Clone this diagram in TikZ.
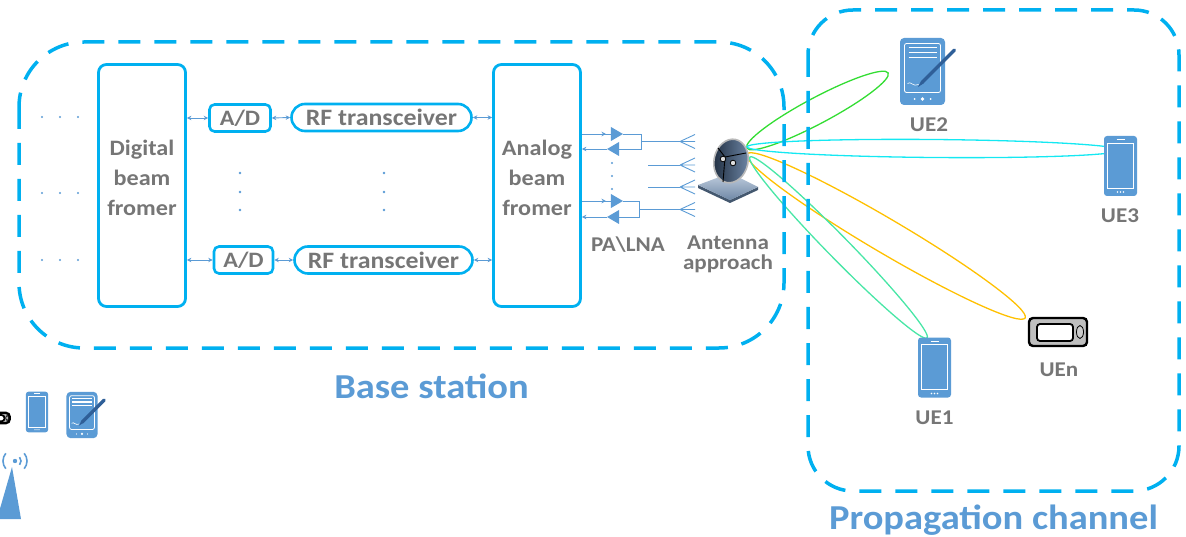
\documentclass[tikz,border=0pt]{standalone}
\usepackage{fontspec}
\setmainfont{Carlito}[FakeStretch=1.1]
\usetikzlibrary{
    arrows.meta,
    shapes.geometric,
    positioning,
    calc
}

\definecolor{bscyan}{HTML}{00B0F0}
\definecolor{sigblue}{HTML}{5B9BD5}
\definecolor{txtgray}{HTML}{767676}
\definecolor{penblue}{HTML}{2F5F98}
\definecolor{pagergray}{HTML}{BFBFBF}
\definecolor{lobegreen}{HTML}{33DD33}
\definecolor{lobecyan}{HTML}{14E8F2}
\definecolor{lobeorange}{HTML}{FFC000}
\definecolor{lobeaqua}{HTML}{48E6A6}
\definecolor{dishdark}{HTML}{1F2D3F}
\definecolor{dishlight}{HTML}{6F88A8}
\definecolor{baselight}{HTML}{C3D0E0}
\definecolor{basemid}{HTML}{6F88A6}
\definecolor{basedark}{HTML}{44586F}

\tikzset{
    % handsets
    phone/.pic={
        \fill[sigblue, rounded corners=3pt] (-16.5,-30) rectangle (16.5,30);
        \draw[white, line width=.8pt] (-13,-23) rectangle (13,22);
        \draw[white, line width=1pt] (-4,-26.5) -- (4,-26.5);
        \foreach \d in {-3,0,3} \fill[white] (\d,26) circle (.9pt);
    },
    tablet/.pic={
        \fill[sigblue, rounded corners=4pt] (-22.5,-33.5) rectangle (22.5,33.5);
        \draw[white, line width=.8pt, rounded corners=2pt] (-18,-28) rectangle (18,21);
        \foreach \l in {-24,-19,-14} \draw[white, line width=1.5pt] (-14,\l) -- (14,\l);
        \fill[white] (0,27.5) circle (1.8pt) (-8,27.5) circle (1pt) (8,27.5) circle (1pt);
        \draw[white, line width=.6pt] (-15,12) .. controls (-12,9) and (-9,16) .. (-4,13);
        \draw[penblue, line width=3.5pt, line cap=round] (32,-21.5) -- (0,10.5);
        \fill[penblue] (1.3,11.8) -- (-1.3,9.2) -- (-4.5,15.5) -- cycle;
    },
    pager/.pic={
        \draw[black, line width=2.4pt, fill=pagergray, rounded corners=4pt] (-29,-14) rectangle (29,14);
        \draw[black, line width=1.8pt, fill=white, rounded corners=3pt] (-21,-8) rectangle (15,9);
        \draw[black, line width=.8pt, fill=pagergray!80] (22,0) ellipse (3.5pt and 6.5pt);
    },
    % antenna dish on its plate
    dish/.pic={
        \fill[basedark] (-32,15) -- (0,30) -- (28,17) -- (28,20) -- (0,33) -- (-32,18) -- cycle;
        \shade[top color=baselight, bottom color=basemid] (-32,15) -- (0,3) -- (28,17) -- (0,30) -- cycle;
        \shade[left color=dishdark, right color=dishlight, draw=gray!55, line width=1.6pt,
               rotate around={-12:(1,-9)}] (1,-9) ellipse (17pt and 22pt);
        \draw[black, line width=.9pt] (-12,-22) -- (-5,-13) -- (16,-17) (-5,-13) -- (-7,12);
        \draw[black, line width=.8pt, fill=gray!25] (-7,-11) circle (2.8pt) (3,-7) circle (2.8pt);
    },
    % feed element of the array
    feed/.pic={
        \draw[sigblue, line width=.9pt] (0,0) -- (15,0) (0,0) -- (15,-7) (0,0) -- (15,7);
    },
}

\begin{document}
\begin{tikzpicture}[x=1pt, y=-1pt,
    region/.style={draw=bscyan, line width=3.5pt, dash pattern=on 22pt off 14pt},
    block/.style={draw=bscyan, line width=2.8pt, rounded corners=8pt, minimum width=87pt,
                  minimum height=242pt, align=center, text=txtgray, text depth=15pt,
                  font=\fontsize{22}{30}\selectfont\bfseries},
    small/.style={draw=bscyan, line width=2.6pt, minimum height=27pt, inner sep=0pt,
                  text=txtgray, font=\fontsize{22}{22}\selectfont\bfseries},
    lbl/.style={text=txtgray, align=center, inner sep=1pt, font=\fontsize{21}{20}\selectfont\bfseries},
    uelbl/.style={text=txtgray, font=\fontsize{21}{22}\selectfont\bfseries},
    title/.style={text=sigblue, inner sep=0pt, font=\fontsize{35}{36}\selectfont\bfseries},
    sig/.style={draw=sigblue, line width=.9pt},
    amp/.style={isosceles triangle, isosceles triangle stretches, fill=sigblue,
                minimum width=14pt, minimum height=12pt, inner sep=0pt, outer sep=0pt},
    lobe/.style={line width=1.3pt},
    >={Stealth[length=4.5pt,width=4.5pt]}
]
\useasboundingbox (0,0) rectangle (1186,537);
\clip (0,0) rectangle (1186,537);

% beams
\draw[lobe, lobegreen, rotate around={28:(817.5,110.5)}] (817.5,110.5) ellipse (80pt and 13pt);
\draw[lobe, lobecyan, rotate around={-0.5:(933.5,148.5)}] (933.5,148.5) ellipse (186.5pt and 9pt);
\draw[lobe, lobeorange, rotate around={-30.5:(886,236)}] (886,236) ellipse (161.5pt and 17pt);
\draw[lobe, lobeaqua, rotate around={-45.6:(838.5,247.5)}] (838.5,247.5) ellipse (126.6pt and 11pt);

% the two regions
\draw[region, rounded corners=65pt] (19,42) rectangle (784,348);
\draw[region, rounded corners=45pt] (808,10) rectangle (1179,491);
\node[title] (bs) at (431.5,386) {Base station};
\node[title] (pc) at (993.5,520) {Propagation channel};

% beam formers and RF chains
\node[block] (dbf) at (142,185.5) {Digital\\beam\\fromer};
\node[block] (abf) at (537,185.5) {Analog\\beam\\fromer};
\node[small, rounded corners=5pt, minimum width=61pt] (ad1) at (240,118) {A/D};
\node[small, rounded corners=5pt, minimum width=59pt] (ad2) at (243.5,260) {A/D};
\node[small, rounded corners=13.5pt, minimum width=180pt,
      font=\fontsize{23.5}{22}\selectfont\bfseries] (rf1) at (381.5,117.5) {RF transceiver};
\node[small, rounded corners=13.5pt, minimum width=178pt,
      font=\fontsize{23.5}{22}\selectfont\bfseries] (rf2) at (383.5,260) {RF transceiver};

\draw[sig, <->] (dbf.east |- ad1) -- (ad1.west);
\draw[sig, <->] (ad1.east) -- (rf1.west);
\draw[sig, <->] (rf1.east) -- (abf.west |- rf1);
\draw[sig, <->] (dbf.east |- ad2) -- (ad2.west);
\draw[sig, <->] (ad2.east) -- (rf2.west);
\draw[sig, <->] (rf2.east) -- (abf.west |- rf2);

\foreach \y in {173,192,210}
    \fill[sigblue] (240,\y) circle (1.3pt) (384,\y) circle (1.3pt);
\foreach \y in {117,193,260}
    \foreach \x in {42,60,78}
        \fill[sigblue] (\x,\y) circle (1.2pt);

% PA / LNA pairs
\node[amp] (pa1) at (615,134) {};
\node[amp, shape border rotate=180] (lna1) at (615,149) {};
\node[amp] (pa2) at (615,201) {};
\node[amp, shape border rotate=180] (lna2) at (615,217) {};

\coordinate (f1) at (641,141.5);
\coordinate (f2) at (639,209.5);
\coordinate (ant1) at (680,141.5);
\coordinate (ant2) at (680,165);
\coordinate (ant3) at (680,187);
\coordinate (ant4) at (680,209.5);

\draw[sig, ->, shorten >=5pt] (abf.east |- pa1) -- (pa1.west);
\draw[sig] (abf.east |- pa1) -- (pa1.west);
\draw[sig] (pa1.east) -- (pa1.east -| f1) -- (lna1.east -| f1) -- (lna1.east);
\draw[sig, <-] (abf.east |- lna1) -- (lna1.west);
\draw[sig, ->, shorten >=5pt] (abf.east |- pa2) -- (pa2.west);
\draw[sig] (abf.east |- pa2) -- (pa2.west);
\draw[sig] (pa2.east) -- (pa2.east -| f2) -- (lna2.east -| f2) -- (lna2.east);
\draw[sig, <-] (abf.east |- lna2) -- (lna2.west);

\draw[sig, line width=1.8pt] (f1) -- ++(9,0);
\draw[sig, line width=1.8pt] (f2) -- ++(9,0);
\draw[sig] (f1) -- (ant1) (f2) -- (ant4);
\draw[sig] (648,165) -- (ant2) (648,187) -- (ant3);
\foreach \a in {ant1,ant2,ant3,ant4}
    \pic at (\a) {feed};
\foreach \y in {163,176,189}
    \fill[sigblue] (612,\y) circle (1.1pt);

\node[lbl] (palna) at (628,245) {PA\textbackslash LNA};
\pic at (730,170) {dish};
\node[lbl] (ant) at (728,254) {Antenna\\approach};

% user equipments
\pic at (922.5,71.5) {tablet};
\node[uelbl] (ue2) at (929,124.5) {UE2};
\pic at (1120.5,166) {phone};
\node[uelbl] (ue3) at (1120,215.5) {UE3};
\pic at (934.5,367.5) {phone};
\node[uelbl] (ue1) at (934.5,418) {UE1};
\pic at (1058,332) {pager};
\node[uelbl] (uen) at (1059,370) {UEn};

% small icons at the lower left
\pic[scale=.37] at (-1,418) {pager};
\pic[scale=.68] at (37,412) {phone};
\pic[scale=.69] at (82,415) {tablet};
\fill[sigblue] (-3,519) -- (12,467) -- (21,519) -- cycle;
\fill[sigblue] (15,461) circle (2.2pt);
\draw[sigblue, line width=1.6pt]
    (15,461) ++(-40:6pt) arc[start angle=-40, end angle=40, radius=6pt]
    (15,461) ++(-40:12pt) arc[start angle=-40, end angle=40, radius=12pt]
    (15,461) ++(140:12pt) arc[start angle=140, end angle=220, radius=12pt];
\end{tikzpicture}
\end{document}
